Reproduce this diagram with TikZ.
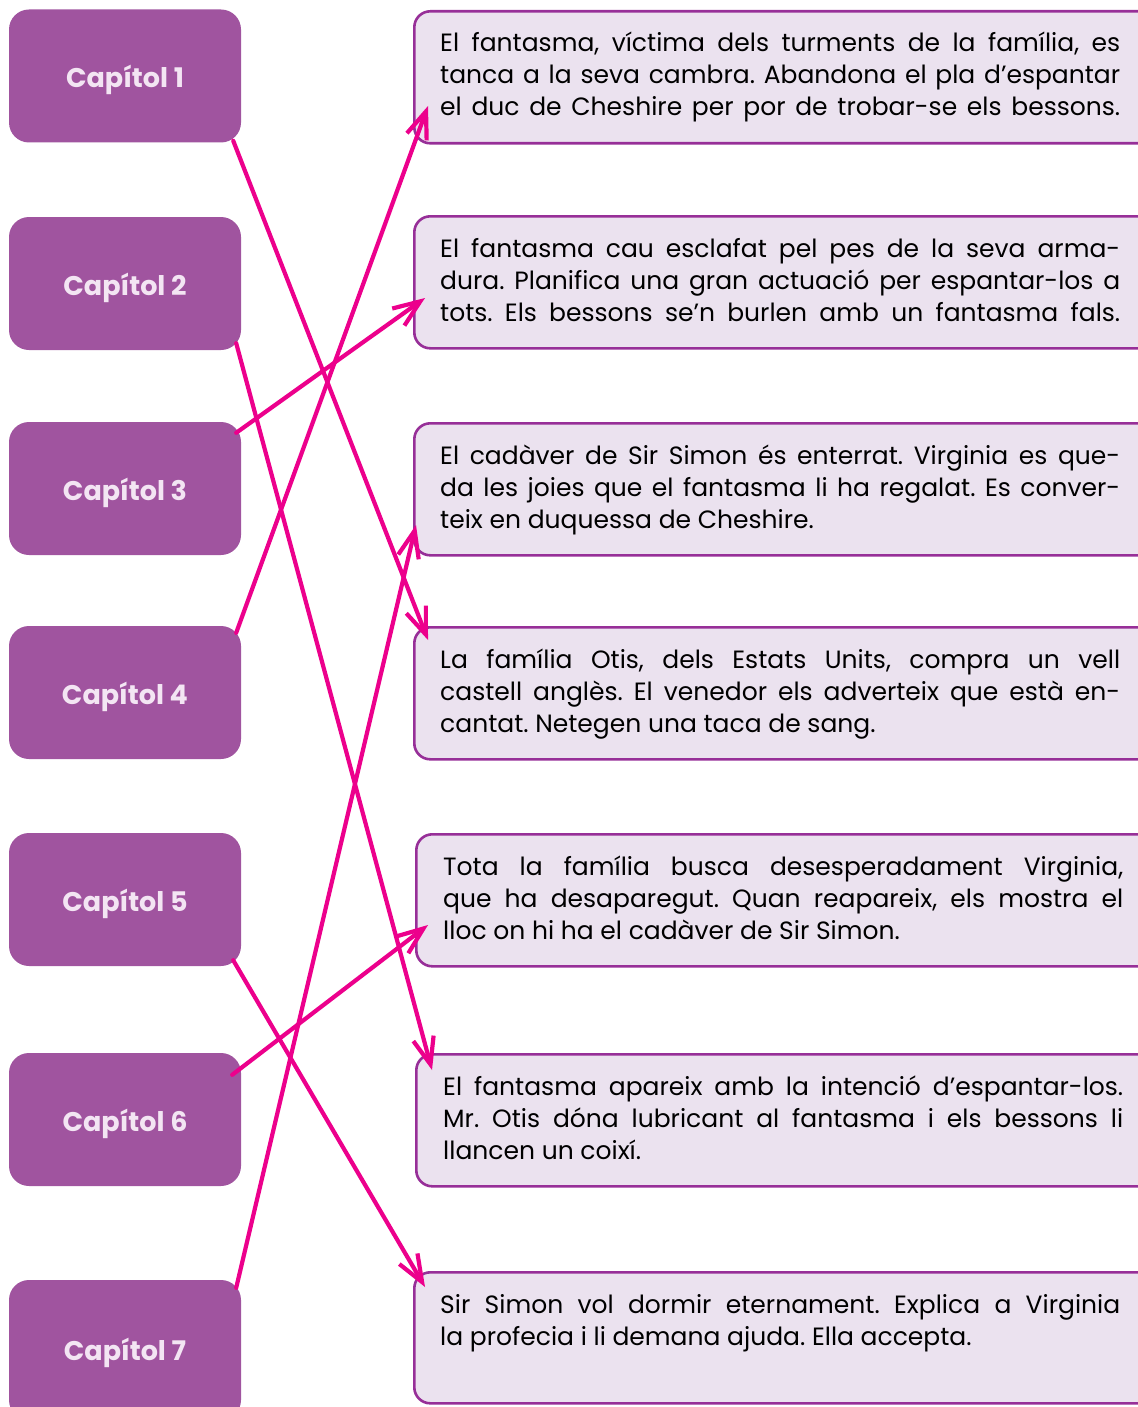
\documentclass[tikz,border=0pt]{standalone}
\usepackage{fontspec}
\setmainfont{Poppins}
\usetikzlibrary{arrows.meta,calc}
\definecolor{chapfill}{HTML}{A0549F}
\definecolor{chaptext}{HTML}{F3E5F3}
\definecolor{descfill}{HTML}{EBE2EF}
\definecolor{descdraw}{HTML}{972F98}
\definecolor{arrowc}{HTML}{EC008C}
\newcommand\jl[1]{\makebox[680pt][s]{#1}}
\newcommand\dtext[1]{\parbox[t]{700pt}{\frenchspacing\fontsize{25}{32}\selectfont #1}}
\begin{document}
\begin{tikzpicture}[x=1pt,y=-1pt,
  chaplabel/.style={text=chaptext, font=\bfseries\fontsize{27}{30}\selectfont,
    text height=24pt, text depth=0pt},
  chap/.style={fill=chapfill, rounded corners=20pt, minimum width=232pt, minimum height=133pt,
    inner sep=0pt, chaplabel},
  desc/.style={draw=descdraw, fill=descfill, line width=2.6pt, rounded corners=16pt,
    minimum width=740pt, minimum height=132pt, inner sep=0pt, anchor=north west},
  desctext/.style={anchor=base west, inner sep=0pt, text=black},
  arr/.style={draw=arrowc, line width=4.2pt, line cap=round,
    -{Straight Barb[length=27pt,width=21pt,line width=4.2pt]}}
]
\useasboundingbox (0,0) rectangle (1137,1407);
% chapter boxes
\node[chap] (c1) at (125,76) {Capítol 1};
\node[chap] (c2) at (125,283.5) {Capítol 2};
\node[chap] (c3) at (125,488.5) {Capítol 3};
\node[chap] (c4) at (125,692.5) {Capítol 4};
\node[chap] (c5) at (125,899.5) {Capítol 5};
\node[chap] (c6) at (125,1119.5) {Capítol 6};
\node[chap, minimum height=140pt] (c7) at (125,1350) {};
\node[chaplabel, inner sep=0pt] (c7l) at (125,1348) {Capítol 7};
% description boxes
\node[desc] (t1) at (413,10) {};
\node[desc] (t2) at (413,215) {};
\node[desc] (t3) at (413,422) {};
\node[desc] (t4) at (413,626) {};
\node[desc] (t5) at (415,833) {};
\node[desc] (t6) at (415,1053) {};
\node[desc, minimum height=131pt] (t7) at (413,1271) {};
% texts
\node[desctext] (x1) at ($(t1.north west)+(27,42)$) {\dtext{\jl{El fantasma, víctima dels turments de la família, es}\\
\jl{tanca a la seva cambra. Abandona el pla d’espantar}\\
\jl{el duc de Cheshire per por de trobar-se els bessons.}}};
\node[desctext] (x2) at ($(t2.north west)+(27,42)$) {\dtext{\jl{El fantasma cau esclafat pel pes de la seva arma-}\\
\jl{dura. Planifica una gran actuació per espantar-los a}\\
\jl{tots. Els bessons se’n burlen amb un fantasma fals.}}};
\node[desctext] (x3) at ($(t3.north west)+(27,42)$) {\dtext{\jl{El cadàver de Sir Simon és enterrat. Virginia es que-}\\
\jl{da les joies que el fantasma li ha regalat. Es conver-}\\
teix en duquessa de Cheshire.}};
\node[desctext] (x4) at ($(t4.north west)+(27,42)$) {\dtext{\jl{La família Otis, dels Estats Units, compra un vell}\\
\jl{castell anglès. El venedor els adverteix que està en-}\\
cantat. Netegen una taca de sang.}};
\node[desctext] (x5) at ($(t5.north west)+(28,42)$) {\dtext{\jl{Tota la família busca desesperadament Virginia,}\\
\jl{que ha desaparegut. Quan reapareix, els mostra el}\\
lloc on hi ha el cadàver de Sir Simon.}};
\node[desctext] (x6) at ($(t6.north west)+(28,42)$) {\dtext{\jl{El fantasma apareix amb la intenció d’espantar-los.}\\
\jl{Mr. Otis dóna lubricant al fantasma i els bessons li}\\
llancen un coixí.}};
\node[desctext] (x7) at ($(t7.north west)+(27,42)$) {\dtext{\jl{Sir Simon vol dormir eternament. Explica a Virginia}\\
la profecia i li demana ajuda. Ella accepta.}};
% connectors
\draw[arr] ($(c1.south east)+(-8,-2)$) -- ($(t4.north west)+(15,14)$);
\draw[arr] ($(c2.south east)+(-5,-7)$) -- ($(t6.north west)+(17,17)$);
\draw[arr] ($(c3.north east)+(-5,11)$) -- ($(t2.north west)+(12,83)$);
\draw[arr] ($(c4.north east)+(-5,7)$) -- ($(t1.north west)+(15,96)$);
\draw[arr] ($(c5.south east)+(-8,-6)$) -- ($(t7.north west)+(12,16)$);
\draw[arr] ($(c6.north east)+(-9,22)$) -- ($(t5.north west)+(13,92)$);
\draw[arr] ($(c7.north east)+(-5,8)$) -- ($(t3.north west)+(3,103)$);
\end{tikzpicture}
\end{document}
